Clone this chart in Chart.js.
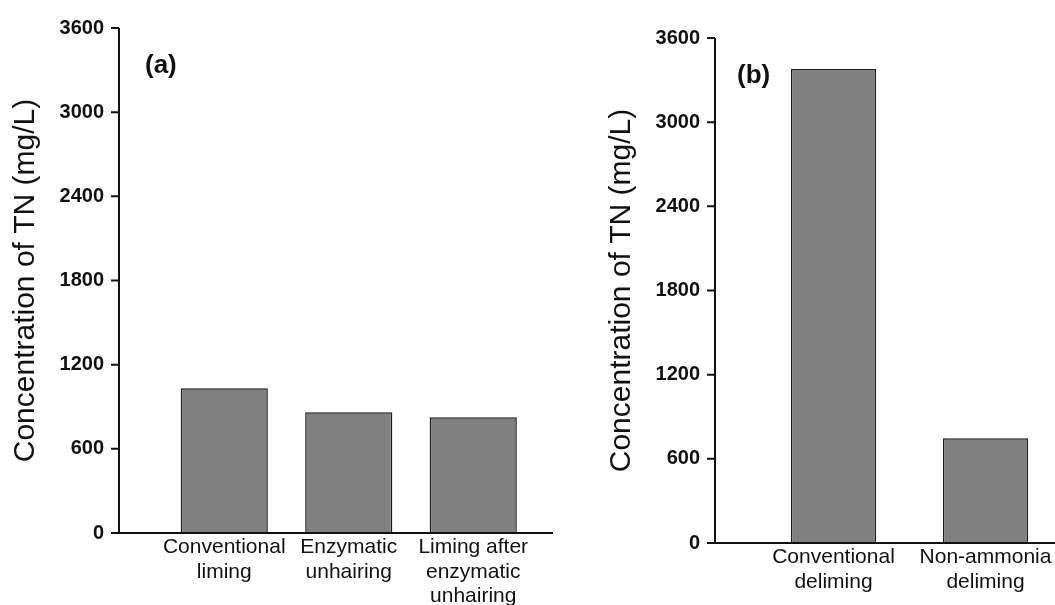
<!DOCTYPE html>
<html lang="en">
<head>
    <meta charset="UTF-8">
    <title>Concentration of TN</title>
    <style>
        body {
            margin: 0;
            width: 1055px;
            height: 605px;
            overflow: hidden;
            background: #fff;
            position: relative;
            font-family: Arial, "Liberation Sans", sans-serif;
        }

        canvas {
            position: absolute;
            top: 0;
        }

        #chart-a { left: 0; }
        #chart-b { left: 575px; }

        .tag {
            position: absolute;
            font-weight: bold;
            font-size: 26px;
            line-height: 26px;
            color: #111;
        }
    </style>
</head>
<body>
    <canvas id="chart-a" width="560" height="605"></canvas>
    <canvas id="chart-b" width="487" height="605"></canvas>
    <div class="tag" style="left:145px; top:51px;">(a)</div>
    <div class="tag" style="left:737px; top:61px;">(b)</div>

    <script src="https://cdn.jsdelivr.net/npm/chart.js"></script>
    <script>
        // panel (a)
        const categoriesA = [
            ['Conventional', 'liming'],
            ['Enzymatic', 'unhairing'],
            ['Liming after', 'enzymatic', 'unhairing']
        ];
        const valuesA = [1032, 861, 825];

        // panel (b)
        const categoriesB = [
            ['Conventional', 'deliming'],
            ['Non-ammonia', 'deliming']
        ];
        const valuesB = [3379, 747];

        const yMin = 0;
        const yMax = 3600;
        const yStep = 600;
        const yTitle = 'Concentration of TN (mg/L)';

        const FONT = 'Arial, "Liberation Sans", sans-serif';
        const INK = '#111';

        // draws the detached y axis (with ticks) and the x axis baseline
        const axisLines = {
            id: 'axisLines',
            afterDatasetsDraw(chart, args, opts) {
                const {ctx, chartArea} = chart;
                const x = chart.scales.x;
                const y = chart.scales.y;
                const ax = chartArea.left - opts.gap;
                const y0 = y.getPixelForValue(yMin);
                const y1 = y.getPixelForValue(yMax);
                ctx.save();
                ctx.strokeStyle = INK;
                ctx.lineWidth = 2;
                ctx.beginPath();
                ctx.moveTo(ax, y1);
                ctx.lineTo(ax, y0 + 1);
                y.ticks.forEach(t => {
                    const py = y.getPixelForValue(t.value);
                    ctx.moveTo(ax - 8, py);
                    ctx.lineTo(ax, py);
                });
                ctx.moveTo(ax - 8, y0);
                ctx.lineTo(x.right + opts.ext, y0);
                ctx.stroke();
                ctx.restore();
            }
        };

        function makeChart(id, labels, values, cfg) {
            return new Chart(document.getElementById(id), {
                type: 'bar',
                data: {
                    labels: labels,
                    datasets: [{
                        data: values,
                        backgroundColor: '#808080',
                        borderColor: '#1a1a1a',
                        borderWidth: 1.5,
                        categoryPercentage: 1,
                        barPercentage: cfg.barPct
                    }]
                },
                options: {
                    responsive: false,
                    animation: false,
                    layout: {
                        padding: {top: cfg.top, right: cfg.right, left: 0, bottom: 0}
                    },
                    plugins: {
                        legend: {display: false},
                        tooltip: {enabled: false},
                        axisLines: {gap: cfg.gap, ext: cfg.ext}
                    },
                    scales: {
                        x: {
                            grid: {display: false, drawTicks: false},
                            border: {display: false},
                            ticks: {
                                color: INK,
                                padding: 2,
                                maxRotation: 0,
                                autoSkip: false,
                                font: {family: FONT, size: 21, lineHeight: 1.17}
                            },
                            afterFit: s => { s.height = cfg.xHeight; }
                        },
                        y: {
                            min: yMin,
                            max: yMax,
                            grid: {display: false, drawTicks: false},
                            border: {display: false},
                            ticks: {
                                stepSize: yStep,
                                color: INK,
                                padding: cfg.tickPad,
                                font: {family: FONT, size: 20, weight: 'bold'},
                                callback: v => String(v)
                            },
                            title: {
                                display: true,
                                text: yTitle,
                                color: INK,
                                padding: {top: cfg.titlePad, bottom: 0},
                                font: {family: FONT, size: 30}
                            },
                            afterFit: s => {
                                // tick padding is only used to push labels off the detached axis
                                s.width = cfg.yWidth;
                                s.paddingTop = 0;
                                s.paddingBottom = 0;
                            }
                        }
                    }
                },
                plugins: [axisLines]
            });
        }

        makeChart('chart-a', categoriesA, valuesA, {
            barPct: 0.70, top: 28, right: 24.5, gap: 43, ext: 17.5,
            xHeight: 72, yWidth: 162, tickPad: 58, titlePad: 7.5
        });

        makeChart('chart-b', categoriesB, valuesB, {
            barPct: 0.56, top: 38, right: 0.5, gap: 42.5, ext: 10,
            xHeight: 62, yWidth: 182.5, tickPad: 57.5, titlePad: 28.5
        });
    </script>
</body>
</html>
